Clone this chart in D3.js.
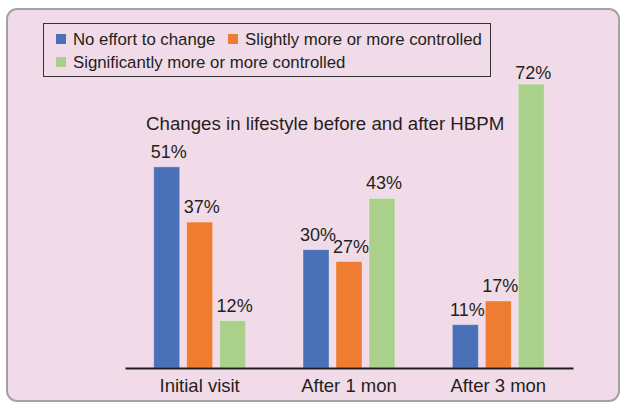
<!DOCTYPE html>
<html>
<head>
<meta charset="utf-8">
<script src="https://cdn.jsdelivr.net/npm/d3@7"></script>
<style>
  body { margin: 0; background: #fff; }
  svg { display: block; font-family: "Liberation Sans", Arial, sans-serif; }
</style>
</head>
<body>
<div id="chart"></div>
<script>
// chart values
const categories = ["Initial visit", "After 1 mon", "After 3 mon"];
const seriesNames = ["No effort to change", "Slightly more or more controlled", "Significantly more or more controlled"];
const noEffort = [51, 30, 11];
const slightlyMore = [37, 27, 17];
const significantlyMore = [12, 43, 72];
const seriesColors = ["#4a71b7", "#ee7d31", "#aad08c"];

const seriesValues = [noEffort, slightlyMore, significantlyMore];
const width = 626, height = 404;
const textColor = "#231f20";

const svg = d3.select("#chart")
    .append("svg")
    .attr("width", width)
    .attr("height", height);

// pink panel
svg.append("rect")
    .attr("x", 7)
    .attr("y", 9)
    .attr("width", 612)
    .attr("height", 392)
    .attr("rx", 10)
    .attr("fill", "#f2dbe8")
    .attr("stroke", "#a3a3a3")
    .attr("stroke-width", 2);

const x0 = d3.scaleBand()
    .domain(categories)
    .range([125, 573]);
const x1 = d3.scaleBand()
    .domain(seriesNames)
    .range([0, x0.bandwidth()])
    .paddingInner(0.21)
    .paddingOuter(0.87);
const y = d3.scaleLinear()
    .domain([0, 72])
    .range([368, 84]);

// bars, one group per category
const rows = categories.map(function(c, i) {
    return {
        category: c,
        values: seriesNames.map(function(s, j) {
            return { name: s, value: seriesValues[j][i], color: seriesColors[j] };
        })
    };
});

const group = svg.selectAll(".grp")
    .data(rows)
    .enter()
    .append("g")
    .attr("class", "grp")
    .attr("transform", function(d) { return "translate(" + x0(d.category) + ",0)"; });

group.selectAll("rect")
    .data(function(d) { return d.values; })
    .enter()
    .append("rect")
    .attr("x", function(d) { return x1(d.name); })
    .attr("y", function(d) { return y(d.value); })
    .attr("width", x1.bandwidth())
    .attr("height", function(d) { return y(0) - y(d.value); })
    .attr("fill", function(d) { return d.color; })
    .attr("stroke", "rgba(255,255,255,0.35)")
    .attr("stroke-width", 1);

// value labels (the tallest one sits a little closer to its bar)
group.selectAll("text.val")
    .data(function(d) { return d.values; })
    .enter()
    .append("text")
    .attr("class", "val")
    .attr("x", function(d) { return x1(d.name) + x1.bandwidth() / 2 + 2; })
    .attr("y", function(d) { return Math.max(y(d.value) - 9, 79); })
    .attr("text-anchor", "middle")
    .attr("font-size", 18)
    .attr("fill", textColor)
    .text(function(d) { return d.value + "%"; });

// x axis
const xAxis = svg.append("g")
    .attr("transform", "translate(0," + y(0) + ")")
    .call(d3.axisBottom(x0).tickSize(0).tickSizeOuter(0).tickPadding(11));
xAxis.select(".domain")
    .attr("stroke", "#231f20")
    .attr("stroke-width", 2);
xAxis.selectAll("text")
    .attr("font-size", 18.5)
    .attr("font-family", "Liberation Sans, Arial, sans-serif")
    .attr("fill", textColor);

// title
svg.append("text")
    .attr("x", 146)
    .attr("y", 130)
    .attr("font-size", 18.7)
    .attr("fill", textColor)
    .text("Changes in lifestyle before and after HBPM");

// legend
svg.append("rect")
    .attr("x", 43.5)
    .attr("y", 23.5)
    .attr("width", 447)
    .attr("height", 53)
    .attr("fill", "none")
    .attr("stroke", "#333")
    .attr("stroke-width", 1);

const legendPos = [[56, 34], [228, 34], [56, 57]];
const legend = svg.selectAll(".leg")
    .data(seriesNames)
    .enter()
    .append("g")
    .attr("class", "leg")
    .attr("transform", function(d, i) { return "translate(" + legendPos[i][0] + "," + legendPos[i][1] + ")"; });
legend.append("rect")
    .attr("width", 10)
    .attr("height", 10)
    .attr("fill", function(d, i) { return seriesColors[i]; });
legend.append("text")
    .attr("x", 17)
    .attr("y", 11)
    .attr("font-size", 16.8)
    .attr("fill", textColor)
    .text(function(d) { return d; });
</script>
</body>
</html>
